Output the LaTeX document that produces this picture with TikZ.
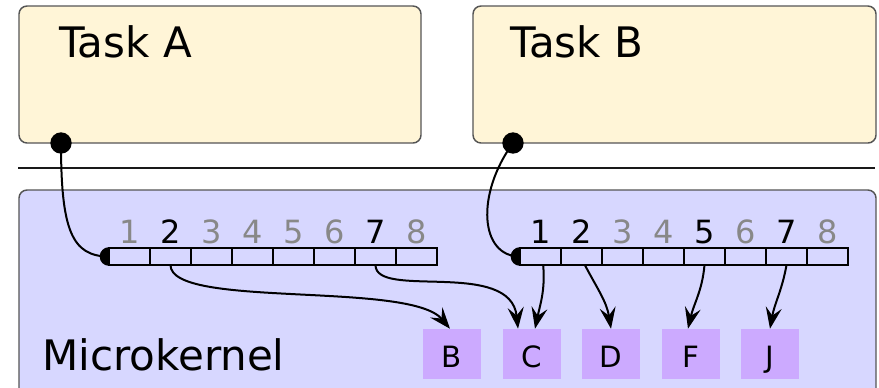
\documentclass[tikz,border=0pt]{standalone}
\usepackage{fontspec}
\setmainfont{DejaVu Sans}
\usetikzlibrary{arrows.meta}
\definecolor{taskfill}{HTML}{FFF5D7}
\definecolor{kernfill}{HTML}{D7D7FF}
\definecolor{capfill}{HTML}{CCAAFF}
\definecolor{edgegray}{HTML}{555555}
\definecolor{numgray}{HTML}{888888}
\tikzset{
	taskbox/.style={draw=edgegray,fill=taskfill,line width=1.1pt,rounded corners=6pt},
	kernbox/.style={draw=edgegray,fill=kernfill,line width=1.1pt,rounded corners=6pt},
	title/.style={inner sep=0pt,font=\fontsize{31.5}{38}\selectfont},
	num/.style={inner sep=0pt,font=\fontsize{24}{28}\selectfont},
	cell/.style={draw,fill=kernfill,line width=1.4pt,minimum width=30.75pt,minimum height=12.75pt,inner sep=0pt,outer sep=0pt},
	objbox/.style={fill=capfill,minimum width=43.5pt,minimum height=37.5pt,inner sep=0pt,text height=19.5pt,text depth=0pt,font=\fontsize{22}{26}\selectfont},
	wire/.style={line width=1.5pt},
	tip/.tip={Stealth[length=16pt,width=12pt,inset=6pt]},
	link/.style={line width=1.5pt,-tip}
}
\begin{document}
\begin{tikzpicture}[x=0.75pt,y=-0.75pt]
	\useasboundingbox (0,0) rectangle (879,387);
	\draw[taskbox] (19,6) rectangle (421,143);
	\draw[taskbox] (473,6) rectangle (876,143);
	\node[title,anchor=base west] (nameA) at (59,57) {Task A};
	\node[title,anchor=base west] (nameB) at (510,57) {Task B};
	\coordinate (dotA) at (61,143);
	\coordinate (dotB) at (513,143);
	\draw[line width=1.5pt,color=black!90] (18,168) -- (875,168);
	\draw[kernbox] (19,190) rectangle (876,420);
	\node[title,anchor=base west] (kname) at (42,370) {Microkernel};
	% the two capability tables
	\coordinate (tabA) at (109,256.5);
	\coordinate (tabB) at (520,256.5);
	\draw[wire] (dotA) to[out=-90,in=180,out distance=65pt,in distance=28pt] (tabA);
	\draw[wire] (dotB) to[out=-126,in=180,out distance=48pt,in distance=30pt] (tabB);
	\fill (dotA) circle[radius=8pt];
	\fill (dotB) circle[radius=8pt];
	\fill (tabA) circle[radius=7pt];
	\fill (tabB) circle[radius=7pt];
	\foreach \i in {1,...,8} {
		\node[cell] (a\i) at ({109+41*(\i-0.5)},256.5) {};
		\node[cell] (b\i) at ({520+41*(\i-0.5)},256.5) {};
	}
	\foreach \i/\c in {1/numgray,2/black,3/numgray,4/numgray,5/numgray,6/numgray,7/black,8/numgray}
		\node[num,text=\c,anchor=base] (na\i) at ([yshift=3.75pt]a\i.north) {\i};
	\foreach \i/\c in {1/black,2/black,3/numgray,4/numgray,5/black,6/numgray,7/black,8/numgray}
		\node[num,text=\c,anchor=base] (nb\i) at ([yshift=3.75pt]b\i.north) {\i};
	% objects
	\foreach \n/\x in {B/452,C/532,D/611,F/691,J/770}
		\node[objbox] (l\n) at (\x,354) {\n};
	\draw[link] (a2.south) to[out=-90,in=130,out distance=33pt,in distance=47pt] ([xshift=-1.5pt]lB.north);
	\draw[link] (a7.south) to[out=-90,in=96,out distance=26pt,in distance=53pt] ([xshift=-10.5pt]lC.north);
	\draw[link] ([xshift=2pt]b1.south) to[out=-85,in=78] ([xshift=2.25pt]lC.north);
	\draw[link] ([xshift=2.5pt]b2.south) to[out=-62,in=99] (lD.north);
	\draw[link] (b5.south) to[out=-95,in=77] ([xshift=-2.25pt]lF.north);
	\draw[link] (b7.south) to[out=-100,in=80] (lJ.north);
\end{tikzpicture}
\end{document}
